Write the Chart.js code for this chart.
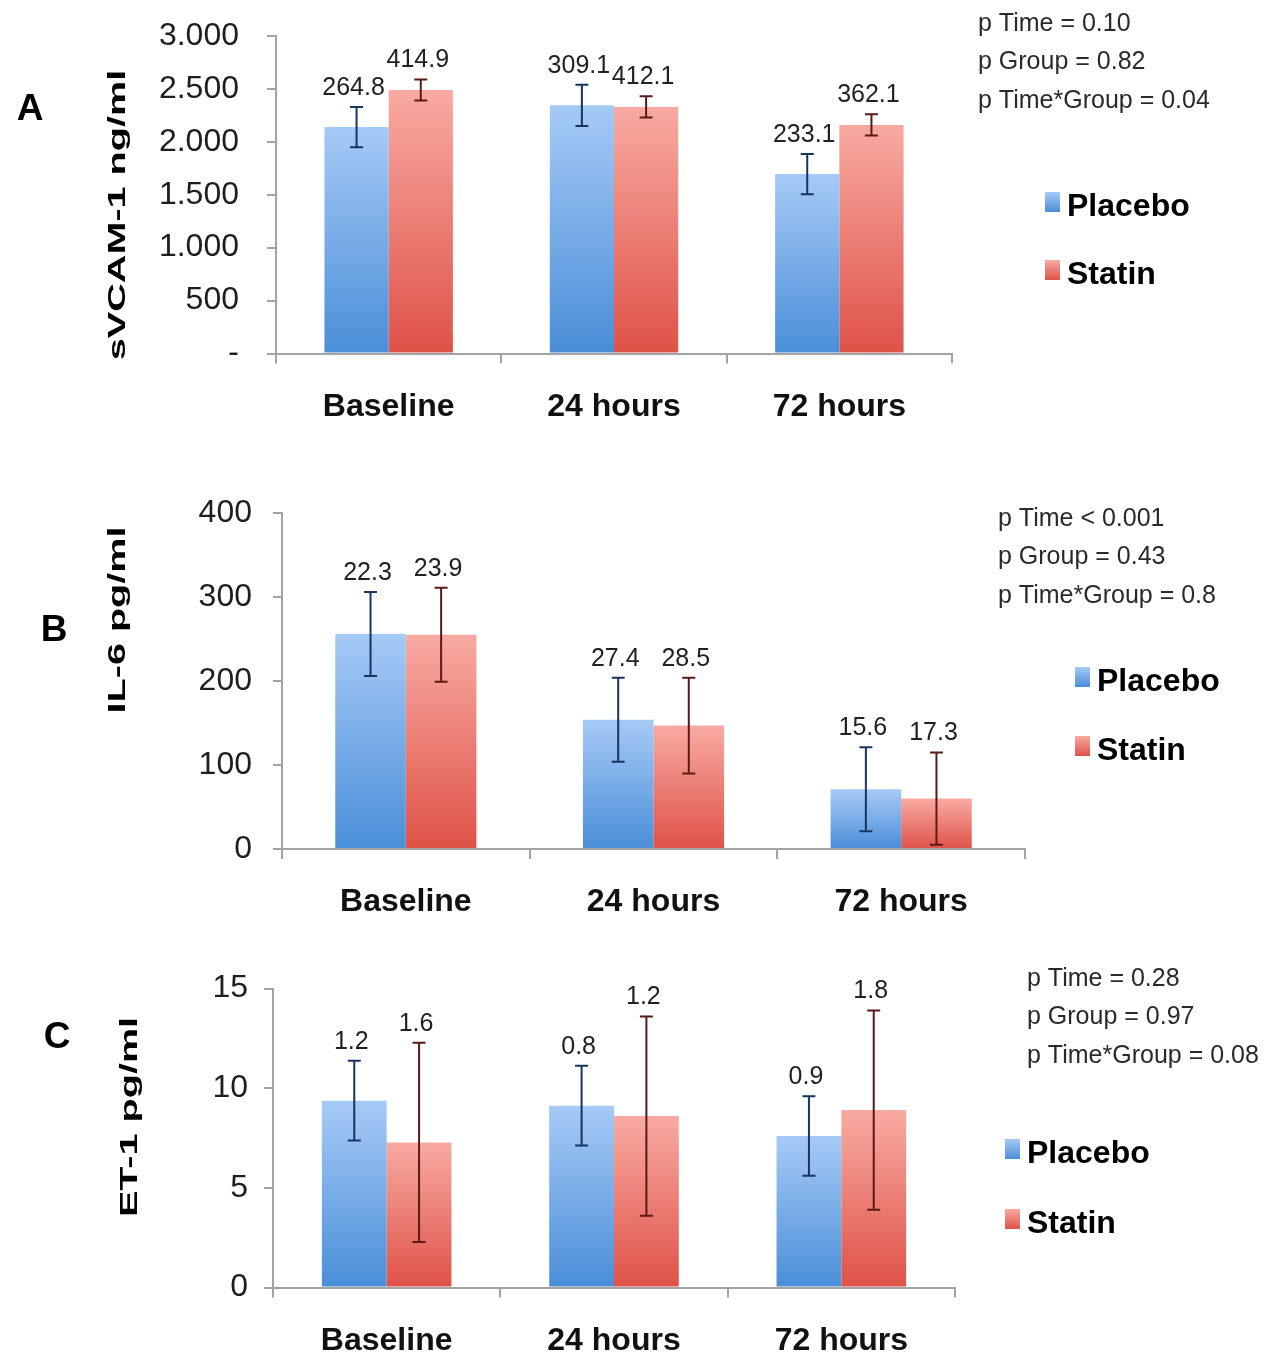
<!DOCTYPE html>
<html>
<head>
<meta charset="utf-8">
<script src="https://cdn.jsdelivr.net/npm/chart.js@4/dist/chart.umd.min.js"></script>
<style>
  body { margin: 0; background: #fff; }
  #wrap { position: relative; width: 1281px; height: 1359px; }
  canvas { position: absolute; left: 0; }
</style>
</head>
<body>
<div id="wrap">
  <canvas id="chartA" width="1281" height="450" style="top:0px"></canvas>
  <canvas id="chartB" width="1281" height="480" style="top:450px"></canvas>
  <canvas id="chartC" width="1281" height="429" style="top:930px"></canvas>
</div>
<script>
// --- data ---
const categories = ['Baseline', '24 hours', '72 hours'];
const seriesNames = ['Placebo', 'Statin'];

// A: sVCAM-1 (ng/ml)
const vcamPlacebo = [2140, 2345, 1695];
const vcamStatin = [2490, 2330, 2160];
const vcamPlaceboErr = [190, 195, 190];
const vcamStatinErr = [100, 100, 100];
const vcamPlaceboSD = ['264.8', '309.1', '233.1'];
const vcamStatinSD = ['414.9', '412.1', '362.1'];
const vcamPValues = ['p Time = 0.10', 'p Group = 0.82', 'p Time*Group = 0.04'];

// B: IL-6 (pg/ml)
const il6Placebo = [256, 154, 71];
const il6Statin = [255, 147, 60];
const il6PlaceboErr = [50, 50, 50];
const il6StatinErr = [56, 57, 55];
const il6PlaceboSD = ['22.3', '27.4', '15.6'];
const il6StatinSD = ['23.9', '28.5', '17.3'];
const il6PValues = ['p Time < 0.001', 'p Group = 0.43', 'p Time*Group = 0.8'];

// C: ET-1 (pg/ml)
const et1Placebo = [9.37, 9.12, 7.6];
const et1Statin = [7.28, 8.6, 8.9];
const et1PlaceboErr = [2.0, 2.0, 2.0];
const et1StatinErr = [5.0, 5.0, 5.0];
const et1PlaceboSD = ['1.2', '0.8', '0.9'];
const et1StatinSD = ['1.6', '1.2', '1.8'];
const et1PValues = ['p Time = 0.28', 'p Group = 0.97', 'p Time*Group = 0.08'];

// --- styling ---
const FONT = "'Liberation Sans', Arial, sans-serif";
const AXIS_GREY = '#a3a3a3';
const placeboColors = { top: '#a6caf6', bottom: '#4a8ed8', err: '#17355e' };
const statinColors = { top: '#f8aaa2', bottom: '#df5247', err: '#5a1a15' };

// each bar gets its own light-to-dark gradient, like the Excel fill
function barGradient(colors) {
    return function(context) {
        const chart = context.chart;
        if (!chart.chartArea || context.type !== 'data') return colors.bottom;
        const y = chart.scales.y;
        const yTop = y.getPixelForValue(context.raw);
        const yBase = y.getPixelForValue(0);
        if (!isFinite(yTop) || yTop === yBase) return colors.bottom;
        const g = chart.ctx.createLinearGradient(0, yTop, 0, yBase);
        g.addColorStop(0, colors.top);
        g.addColorStop(1, colors.bottom);
        return g;
    };
}

// error bars + SD labels
const errorBarPlugin = {
    id: 'errorBars',
    afterDatasetsDraw(chart) {
        const { ctx, scales } = chart;
        chart.data.datasets.forEach((ds, di) => {
            const meta = chart.getDatasetMeta(di);
            meta.data.forEach((bar, i) => {
                const v = ds.data[i];
                const e = ds.errors[i];
                const yHi = scales.y.getPixelForValue(v + e);
                const yLo = scales.y.getPixelForValue(Math.max(v - e, scales.y.min));
                const x = bar.x;
                ctx.save();
                ctx.strokeStyle = ds.errColor;
                ctx.lineWidth = 2;
                ctx.beginPath();
                ctx.moveTo(x, yHi); ctx.lineTo(x, yLo);
                ctx.moveTo(x - 6.5, yHi); ctx.lineTo(x + 6.5, yHi);
                ctx.moveTo(x - 6.5, yLo); ctx.lineTo(x + 6.5, yLo);
                ctx.stroke();
                ctx.fillStyle = '#222';
                ctx.font = '25px ' + FONT;
                ctx.textAlign = 'center';
                ctx.textBaseline = 'middle';
                ctx.fillText(ds.sdLabels[i], x - 3, yHi - 19);
                ctx.restore();
            });
        });
    }
};

// panel letter, rotated y title, p values and legend
const panelTextPlugin = {
    id: 'panelText',
    afterDraw(chart, args, opts) {
        const ctx = chart.ctx;
        ctx.save();
        ctx.fillStyle = '#000';
        ctx.textBaseline = 'middle';

        ctx.font = 'bold 37px ' + FONT;
        ctx.textAlign = 'center';
        ctx.fillText(opts.letter, opts.letterPos[0], opts.letterPos[1]);

        // y title (stretched along its length like the original)
        ctx.save();
        ctx.translate(opts.titlePos[0], opts.titlePos[1]);
        ctx.rotate(-Math.PI / 2);
        ctx.scale(1.65, 1);
        ctx.font = 'bold 24px ' + FONT;
        ctx.textAlign = 'center';
        ctx.fillText(opts.title, 0, 0);
        ctx.restore();

        ctx.font = '25px ' + FONT;
        ctx.fillStyle = '#2a2a2a';
        ctx.textAlign = 'left';
        opts.pValues.forEach((t, i) => {
            ctx.fillText(t, opts.pPos[0], opts.pPos[1] + i * 38.5);
        });

        chart.data.datasets.forEach((ds, i) => {
            const x = opts.legendPos[0];
            const y = opts.legendPos[1] + i * opts.legendGap;
            const g = ctx.createLinearGradient(0, y - 13, 0, y + 7);
            g.addColorStop(0, ds.colors.top);
            g.addColorStop(1, ds.colors.bottom);
            ctx.fillStyle = g;
            ctx.fillRect(x, y - 13, 15, 20);
            ctx.fillStyle = '#000';
            ctx.font = 'bold 32px ' + FONT;
            ctx.fillText(ds.label, x + 22, y + 2);
        });
        ctx.restore();
    }
};

function thousands(v) {
    if (v === 0) return '-';
    return String(v).replace(/\B(?=(\d{3})+(?!\d))/g, '.');
}

function makeChart(id, cfg) {
    const canvas = document.getElementById(id);
    const datasets = [
        {
            label: seriesNames[0],
            data: cfg.placebo,
            errors: cfg.placeboErr,
            sdLabels: cfg.placeboSD,
            colors: placeboColors,
            errColor: placeboColors.err,
            backgroundColor: barGradient(placeboColors),
            borderWidth: 0,
            categoryPercentage: 0.57,
            barPercentage: 1.0
        },
        {
            label: seriesNames[1],
            data: cfg.statin,
            errors: cfg.statinErr,
            sdLabels: cfg.statinSD,
            colors: statinColors,
            errColor: statinColors.err,
            backgroundColor: barGradient(statinColors),
            borderWidth: 0,
            categoryPercentage: 0.57,
            barPercentage: 1.0
        }
    ];

    return new Chart(canvas.getContext('2d'), {
        type: 'bar',
        data: { labels: categories, datasets: datasets },
        options: {
            responsive: false,
            animation: false,
            layout: { padding: { left: 0, top: cfg.area.top, right: canvas.width - cfg.area.right, bottom: 0 } },
            plugins: {
                legend: { display: false },
                tooltip: { enabled: false },
                panelText: cfg.text
            },
            scales: {
                x: {
                    grid: { display: true, drawOnChartArea: false, offset: true, tickLength: 10, color: AXIS_GREY, lineWidth: 2 },
                    border: { display: true, color: AXIS_GREY, width: 2 },
                    ticks: { color: '#111', font: { family: FONT, size: 32, weight: 'bold' }, padding: 24 },
                    afterFit(scale) { scale.height = canvas.height - cfg.area.bottom; }
                },
                y: {
                    min: 0,
                    max: cfg.yMax,
                    grid: { display: true, drawOnChartArea: false, tickLength: 9, color: AXIS_GREY, lineWidth: 2 },
                    border: { display: true, color: AXIS_GREY, width: 2 },
                    ticks: {
                        stepSize: cfg.yStep,
                        color: '#1e1e1e',
                        padding: cfg.tickPad,
                        font: { family: FONT, size: 32 },
                        callback: cfg.yFormat
                    },
                    afterFit(scale) {
                        // fixed axis width; don't let label overflow push the plot area down
                        scale.width = cfg.area.left;
                        scale.paddingTop = 0;
                        scale.paddingBottom = 0;
                    }
                }
            }
        },
        plugins: [errorBarPlugin, panelTextPlugin]
    });
}

makeChart('chartA', {
    placebo: vcamPlacebo, statin: vcamStatin,
    placeboErr: vcamPlaceboErr, statinErr: vcamStatinErr,
    placeboSD: vcamPlaceboSD, statinSD: vcamStatinSD,
    yMax: 3000, yStep: 500, tickPad: 28, yFormat: thousands,
    area: { left: 276, right: 952, top: 36, bottom: 353.5 },
    text: {
        letter: 'A', letterPos: [30, 110],
        title: 'sVCAM-1 ng/ml', titlePos: [118, 215],
        pValues: vcamPValues, pPos: [978, 24],
        legendPos: [1045, 205], legendGap: 68
    }
});

makeChart('chartB', {
    placebo: il6Placebo, statin: il6Statin,
    placeboErr: il6PlaceboErr, statinErr: il6StatinErr,
    placeboSD: il6PlaceboSD, statinSD: il6StatinSD,
    yMax: 400, yStep: 100, tickPad: 21, yFormat: v => String(v),
    area: { left: 282, right: 1025, top: 63, bottom: 399 },
    text: {
        letter: 'B', letterPos: [54, 181],
        title: 'IL-6 pg/ml', titlePos: [118, 170],
        pValues: il6PValues, pPos: [998, 69],
        legendPos: [1075, 230], legendGap: 69
    }
});

makeChart('chartC', {
    placebo: et1Placebo, statin: et1Statin,
    placeboErr: et1PlaceboErr, statinErr: et1StatinErr,
    placeboSD: et1PlaceboSD, statinSD: et1StatinSD,
    yMax: 15, yStep: 5, tickPad: 16, yFormat: v => String(v),
    area: { left: 273, right: 955, top: 58.5, bottom: 357.5 },
    text: {
        letter: 'C', letterPos: [57, 108],
        title: 'ET-1 pg/ml', titlePos: [130, 187],
        pValues: et1PValues, pPos: [1027, 49],
        legendPos: [1005, 222], legendGap: 70
    }
});
</script>
</body>
</html>
